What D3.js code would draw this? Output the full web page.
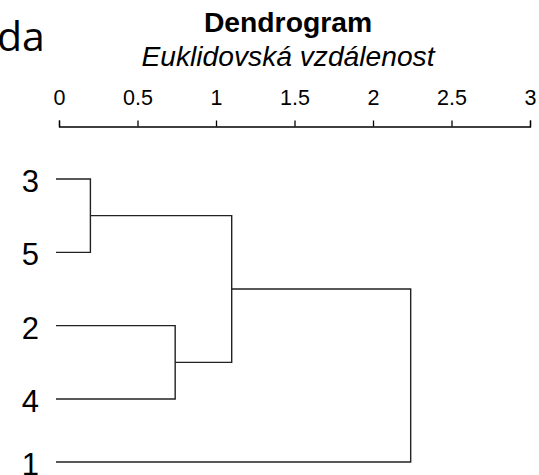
<!DOCTYPE html>
<html>
<head>
<meta charset="utf-8">
<script src="https://cdn.jsdelivr.net/npm/d3@7"></script>
<style>
  html, body { margin: 0; padding: 0; background: #fff; }
  svg { display: block; }
</style>
</head>
<body>
<svg id="chart" width="539" height="475"></svg>
<script>
// Leaves in display order (top to bottom)
const leaves = ["3", "5", "2", "4", "1"];
// Agglomeration steps: [left child, right child, merge distance]
// children are leaf labels or ids of earlier merges ("m0", "m1", ...)
const merges = [
  ["3", "5", 0.2],
  ["2", "4", 0.74],
  ["m0", "m1", 1.1],
  ["m2", "1", 2.24]
];
const axisTicks = [0, 0.5, 1, 1.5, 2, 2.5, 3];
const titleText = "Dendrogram";
const subtitleText = "Euklidovská vzdálenost";
const cornerText = "da";

const svg = d3.select("#chart");
const font = "Arial, 'Liberation Sans', Helvetica, sans-serif";

// distance scale along the top axis
const x = d3.scaleLinear().domain([0, 3]).range([59, 530]);
// leaf positions
const y = d3.scaleLinear().domain([0, 3, 4]).range([179, 399, 462]);

// fragment of neighbouring text in the top-left corner
svg.append("text")
  .attr("x", -3).attr("y", 51)
  .attr("font-family", "'Open Sans', 'Noto Sans', sans-serif")
  .attr("font-size", 41)
  .attr("fill", "#000")
  .text(cornerText);

// titles
svg.append("text")
  .attr("x", 288).attr("y", 32)
  .attr("text-anchor", "middle")
  .attr("font-family", font).attr("font-weight", "bold")
  .attr("font-size", 28.3)
  .text(titleText);
svg.append("text")
  .attr("x", 288).attr("y", 66)
  .attr("text-anchor", "middle")
  .attr("font-family", font).attr("font-style", "italic")
  .attr("font-size", 28.2)
  .text(subtitleText);

// top axis
const axis = d3.axisTop(x)
  .tickValues(axisTicks)
  .tickSize(6)
  .tickPadding(16)
  .tickFormat(d3.format("~g"));
const gAxis = svg.append("g").attr("transform", "translate(0,126.5)").call(axis);
gAxis.select(".domain").attr("stroke", "#000").attr("stroke-width", 1.3);
gAxis.selectAll(".tick line").attr("stroke", "#000").attr("stroke-width", 1.3);
gAxis.selectAll(".tick text")
  .attr("font-family", font).attr("font-size", 21.5).attr("fill", "#000");

// node positions
const nodes = {};
leaves.forEach((name, i) => { nodes[name] = { h: 0, pos: i }; });
merges.forEach(([a, b, h], i) => {
  nodes["m" + i] = { h, pos: (nodes[a].pos + nodes[b].pos) / 2, a, b };
});

const g = svg.append("g")
  .attr("fill", "none").attr("stroke", "#222").attr("stroke-width", 1.4);

// leaf labels
svg.append("g").selectAll("text")
  .data(leaves)
  .join("text")
  .attr("x", 39)
  .attr("y", (d, i) => y(i) + 13)
  .attr("text-anchor", "end")
  .attr("font-family", font)
  .attr("font-size", 31)
  .attr("fill", "#000")
  .text(d => d);

// branch x start: leaves start a little left of 0
const xStart = x(0) - 3;
function nodeX(n) { return n.h === 0 ? xStart : x(n.h); }

merges.forEach(([a, b, h], i) => {
  const na = nodes[a], nb = nodes[b];
  const xm = x(h);
  const ya = y(na.pos), yb = y(nb.pos);
  g.append("path")
    .attr("d", `M${nodeX(na)},${ya}H${xm}V${yb}H${nodeX(nb)}`);
});
</script>
</body>
</html>
